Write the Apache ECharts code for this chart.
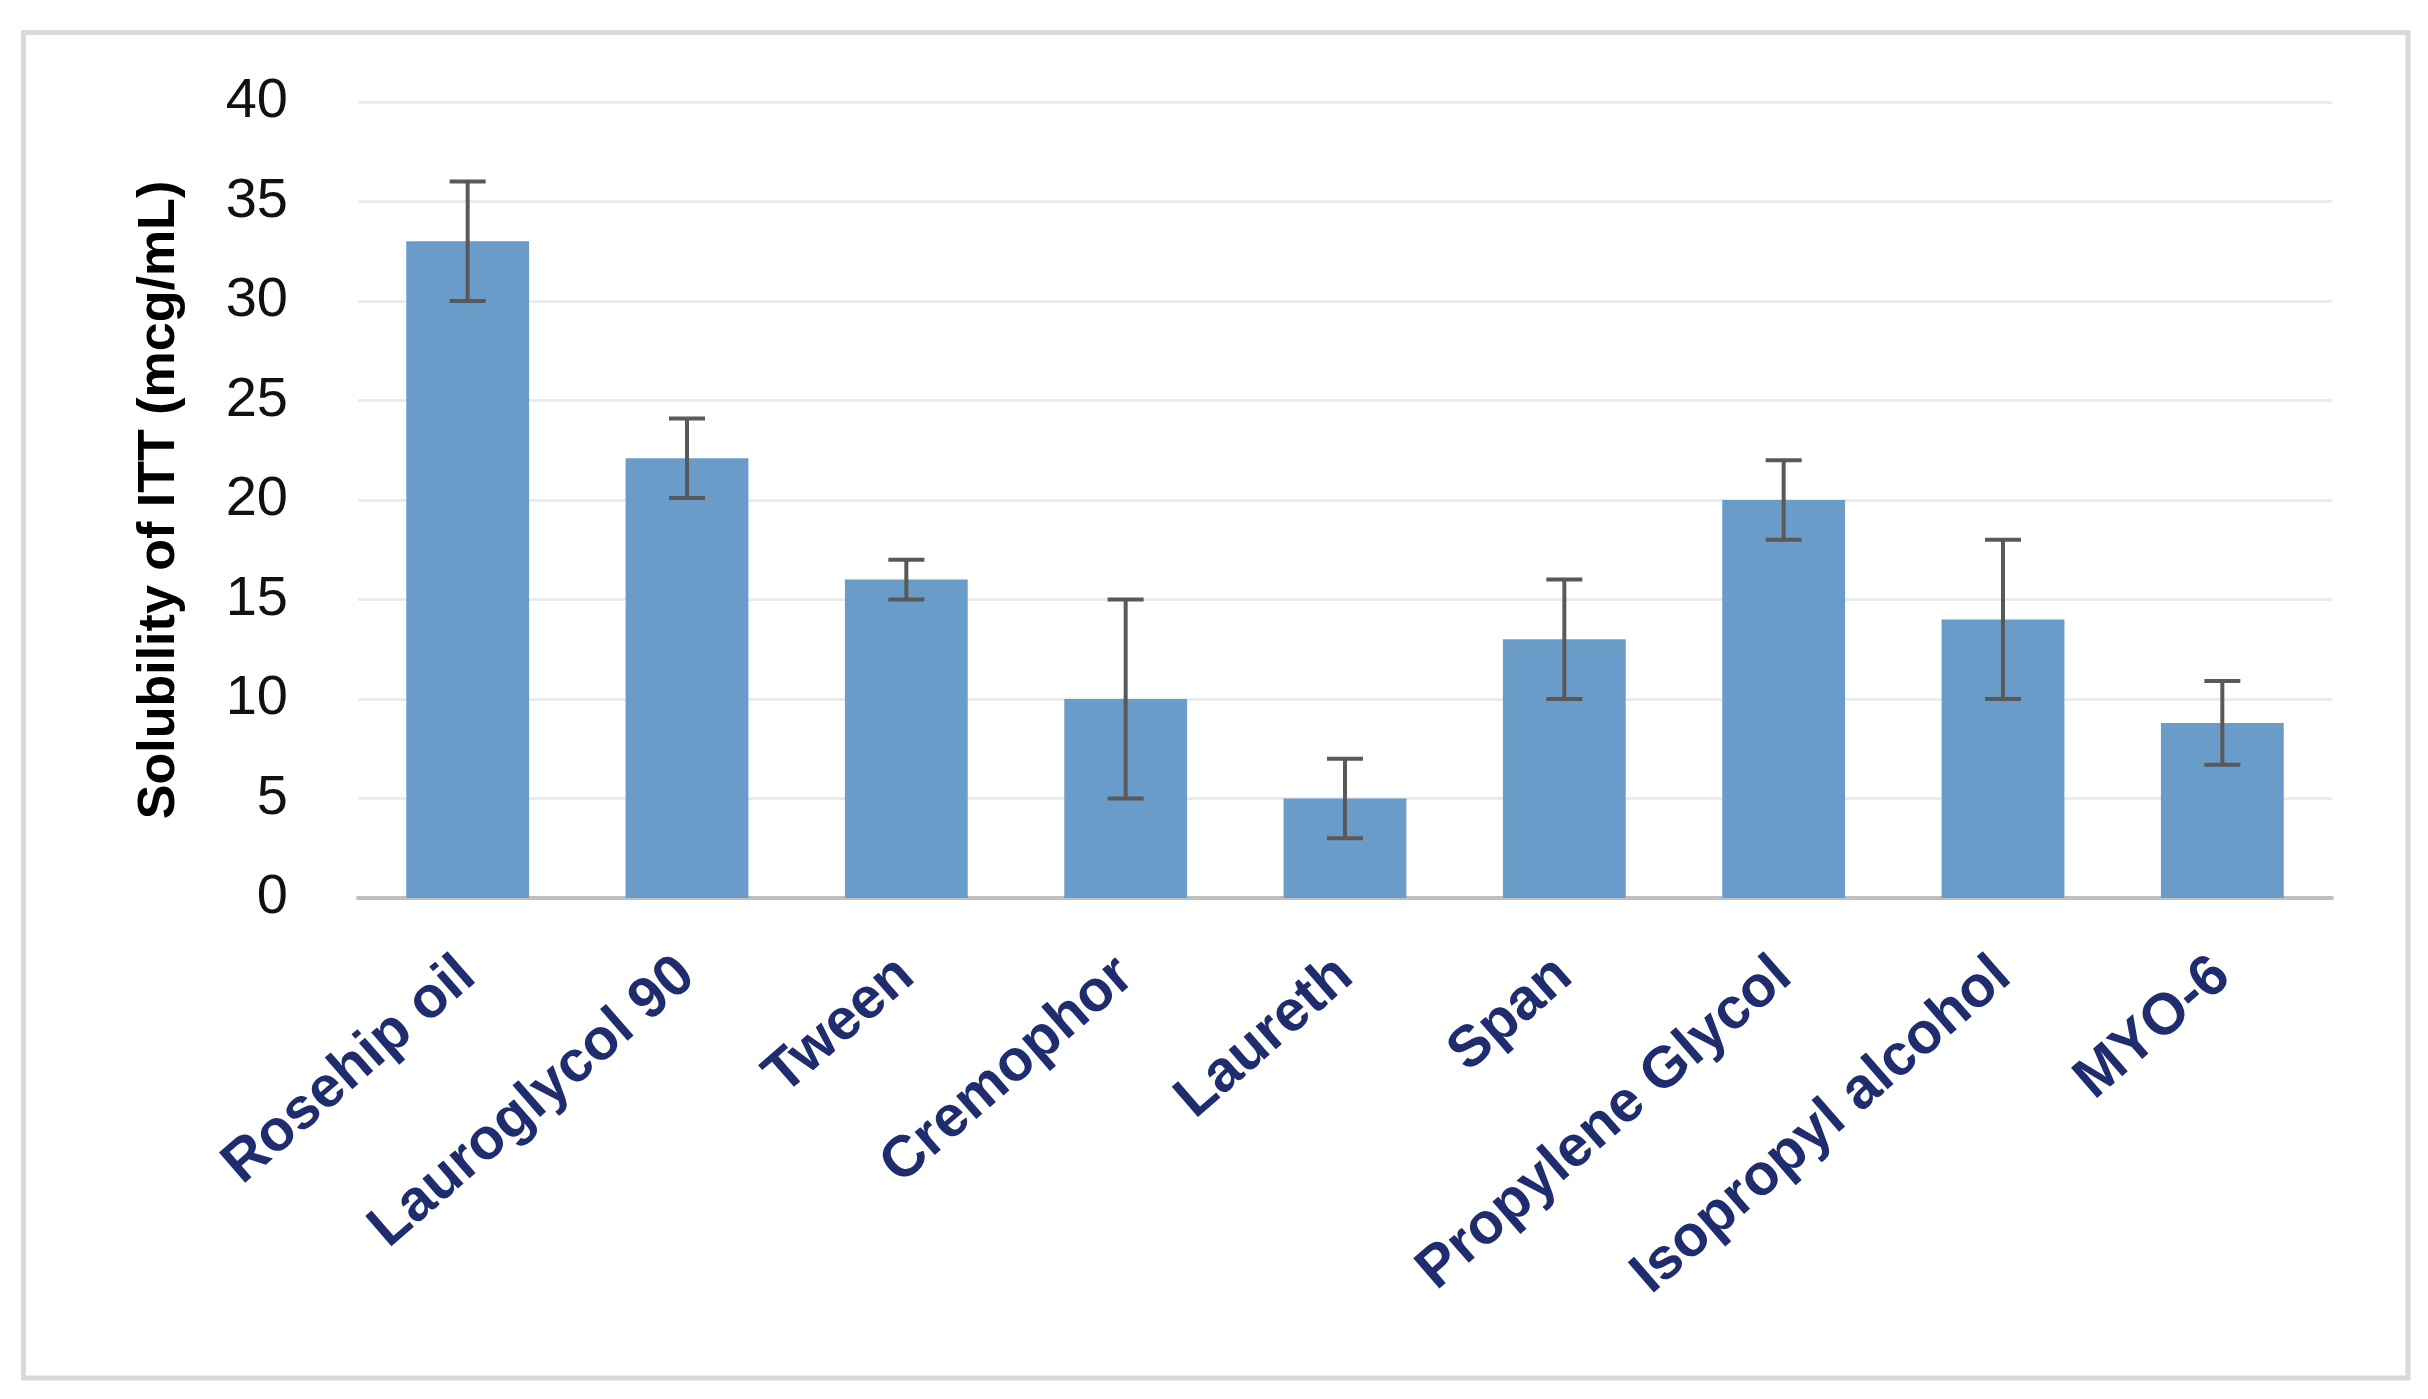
<!DOCTYPE html>
<html><head><meta charset="utf-8">
<script src="https://cdn.jsdelivr.net/npm/echarts@6/dist/echarts.min.js"></script>
<style>html,body{margin:0;padding:0;background:#fff}#c{width:2428px;height:1399px}</style>
</head><body><div id="c"></div>
<script>
const categories = ['Rosehip oil', 'Lauroglycol 90', 'Tween', 'Cremophor', 'Laureth', 'Span', 'Propylene Glycol', 'Isopropyl alcohol', 'MYO-6'];
const solubility = [33, 22.1, 16, 10, 5, 13, 20, 14, 8.8];
const errorSD = [3, 2, 1, 5, 2, 3, 2, 4, 2.1];
const yAxisTitle = 'Solubility of ITT (mcg/mL)';
const yMin = 0, yMax = 40, yStep = 5;

const chart = echarts.init(document.getElementById('c'), null, {renderer: 'canvas'});
const errData = categories.map((c, i) => [i, solubility[i], errorSD[i]]);

chart.setOption({
  animation: false,
  backgroundColor: '#ffffff',
  graphic: [{
    type: 'rect', silent: true,
    shape: {x: 23.5, y: 32.5, width: 2384.5, height: 1345.5},
    style: {fill: 'none', stroke: '#d9d9d9', lineWidth: 5}
  }],
  grid: {left: 358, right: 96, top: 102, bottom: 501, containLabel: false},
  xAxis: {
    type: 'category',
    data: categories,
    axisLine: {show: true, lineStyle: {color: '#bfbfbf', width: 4}},
    axisTick: {show: false},
    axisLabel: {
      interval: 0, rotate: 41, margin: 70,
      fontFamily: 'Liberation Sans, Arial, sans-serif', fontWeight: 'bold', fontSize: 58,
      color: '#1f2d6e'
    }
  },
  yAxis: {
    type: 'value', min: yMin, max: yMax, interval: yStep,
    name: yAxisTitle, nameLocation: 'middle', nameGap: 172,
    nameTextStyle: {fontFamily: 'Liberation Sans, Arial, sans-serif', fontWeight: 'bold', fontSize: 52, color: '#000'},
    axisLine: {show: false}, axisTick: {show: false},
    axisLabel: {margin: 70, fontFamily: 'Liberation Sans, Arial, sans-serif', fontSize: 56, color: '#111'},
    splitLine: {show: true, lineStyle: {color: '#ebebeb', width: 3}}
  },
  series: [{
    type: 'bar',
    data: solubility,
    barWidth: '56%',
    itemStyle: {color: '#6a9cca'},
    z: 2
  }, {
    type: 'custom',
    data: errData,
    z: 3,
    renderItem: function (params, api) {
      const x = api.value(0), v = api.value(1), e = api.value(2);
      const top = api.coord([x, v + e]);
      const bot = api.coord([x, v - e]);
      const hw = 18;
      const st = {stroke: '#595959', lineWidth: 4};
      return {type: 'group', children: [
        {type: 'line', shape: {x1: top[0], y1: top[1], x2: bot[0], y2: bot[1]}, style: st},
        {type: 'line', shape: {x1: top[0] - hw, y1: top[1], x2: top[0] + hw, y2: top[1]}, style: st},
        {type: 'line', shape: {x1: bot[0] - hw, y1: bot[1], x2: bot[0] + hw, y2: bot[1]}, style: st}
      ]};
    }
  }]
});
</script></body></html>
